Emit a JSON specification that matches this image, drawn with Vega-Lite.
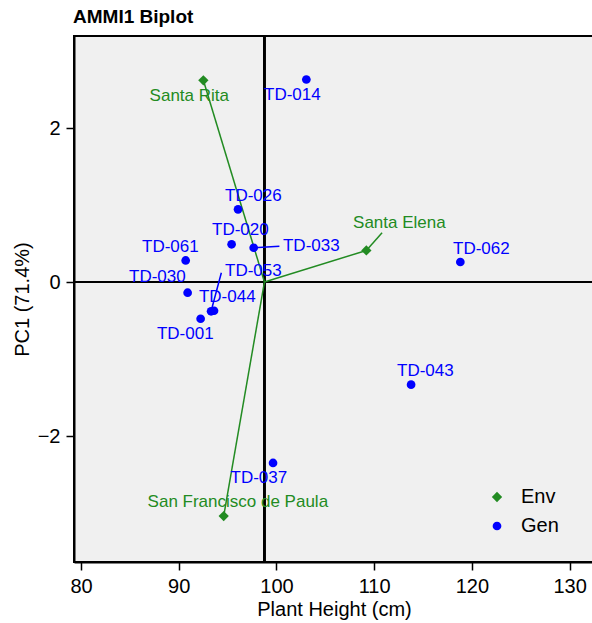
{
  "$schema": "https://vega.github.io/schema/vega-lite/v6.json",
  "autosize": {"type": "none"},
  "padding": {"left": 74, "top": 36, "right": 0, "bottom": 61},
  "width": 520,
  "height": 526,
  "title": {
    "text": "AMMI1 Biplot",
    "anchor": "start",
    "frame": "group",
    "font": "Liberation Sans",
    "fontSize": 19,
    "fontWeight": "bold",
    "color": "black",
    "offset": 8,
    "dx": -1
  },
  "config": {
    "font": "Liberation Sans",
    "view": {"fill": "#f0f0f0", "stroke": "black", "strokeWidth": 2},
    "axis": {
      "grid": false,
      "domainColor": "black",
      "domainWidth": 2,
      "tickColor": "black",
      "tickWidth": 1.5,
      "tickSize": 8,
      "labelFont": "Liberation Sans",
      "labelFontSize": 20,
      "labelColor": "black",
      "labelPadding": 6,
      "titleFont": "Liberation Sans",
      "titleFontSize": 20,
      "titleFontWeight": "normal",
      "titleColor": "black"
    },
    "legend": {
      "labelFont": "Liberation Sans",
      "labelFontSize": 20,
      "labelColor": "black"
    }
  },
  "data": {
    "values": [
      {"name": "Santa Rita", "type": "Env", "x": 92.52, "y": 2.62, "lx": 91.08, "ly": 2.42},
      {"name": "Santa Elena", "type": "Env", "x": 109.2, "y": 0.41, "lx": 112.58, "ly": 0.766, "sx": 110.81, "sy": 0.64},
      {"name": "San Francisco de Paula", "type": "Env", "x": 94.6, "y": -3.04, "lx": 96.05, "ly": -2.857},
      {"name": "TD-014", "type": "Gen", "x": 103.06, "y": 2.63, "lx": 101.63, "ly": 2.43},
      {"name": "TD-026", "type": "Gen", "x": 96.07, "y": 0.944, "lx": 97.64, "ly": 1.117},
      {"name": "TD-020", "type": "Gen", "x": 95.41, "y": 0.49, "lx": 96.31, "ly": 0.675},
      {"name": "TD-033", "type": "Gen", "x": 97.67, "y": 0.445, "lx": 103.57, "ly": 0.468, "sx": 100.3, "sy": 0.464},
      {"name": "TD-061", "type": "Gen", "x": 90.71, "y": 0.28, "lx": 89.14, "ly": 0.455},
      {"name": "TD-030", "type": "Gen", "x": 90.91, "y": -0.139, "lx": 87.81, "ly": 0.065},
      {"name": "TD-053", "type": "Gen", "x": 93.31, "y": -0.38, "lx": 97.64, "ly": 0.143, "sx": 94.36, "sy": 0.121},
      {"name": "TD-044", "type": "Gen", "x": 93.61, "y": -0.373, "lx": 94.97, "ly": -0.195},
      {"name": "TD-001", "type": "Gen", "x": 92.24, "y": -0.477, "lx": 90.67, "ly": -0.675},
      {"name": "TD-062", "type": "Gen", "x": 118.82, "y": 0.26, "lx": 120.97, "ly": 0.43},
      {"name": "TD-043", "type": "Gen", "x": 113.78, "y": -1.333, "lx": 115.24, "ly": -1.156},
      {"name": "TD-037", "type": "Gen", "x": 99.65, "y": -2.35, "lx": 98.2, "ly": -2.545}
    ]
  },
  "layer": [
    {
      "mark": {"type": "rule", "color": "black", "strokeWidth": 1.5},
      "encoding": {"x": {"datum": 98.77, "type": "quantitative"}}
    },
    {
      "mark": {"type": "rule", "color": "black", "strokeWidth": 1.5},
      "encoding": {"y": {"datum": 0, "type": "quantitative"}}
    },
    {
      "transform": [{"filter": "datum.type === 'Env'"}],
      "mark": {"type": "rule", "color": "#228B22", "strokeWidth": 1.5},
      "encoding": {
        "x": {"field": "x", "type": "quantitative"},
        "y": {"field": "y", "type": "quantitative"},
        "x2": {"datum": 98.77},
        "y2": {"datum": 0}
      }
    },
    {
      "transform": [{"filter": "isValid(datum.sx)"}],
      "mark": {"type": "rule", "strokeWidth": 1.5},
      "encoding": {
        "x": {"field": "x", "type": "quantitative"},
        "y": {"field": "y", "type": "quantitative"},
        "x2": {"field": "sx"},
        "y2": {"field": "sy"},
        "color": {"condition": {"test": "datum.type === 'Env'", "value": "#228B22"}, "value": "#0000FF"}
      }
    },
    {
      "mark": {"type": "point", "filled": true, "opacity": 1},
      "encoding": {
        "x": {
          "field": "x",
          "type": "quantitative",
          "title": "Plant Height (cm)",
          "scale": {"domain": [79.28, 132.5], "nice": false, "zero": false},
          "axis": {"values": [80, 90, 100, 110, 120, 130], "format": "d", "titlePadding": 3}
        },
        "y": {
          "field": "y",
          "type": "quantitative",
          "title": "PC1 (71.4%)",
          "scale": {"domain": [-3.636, 3.195], "nice": false, "zero": false},
          "axis": {"values": [-2, 0, 2], "format": "d", "titlePadding": 5}
        },
        "color": {
          "field": "type",
          "type": "nominal",
          "scale": {"domain": ["Env", "Gen"], "range": ["#228B22", "#0000FF"]},
          "legend": {
            "title": null,
            "orient": "none",
            "legendX": 413,
            "legendY": 451,
            "symbolSize": 40,
            "labelOffset": 14,
            "rowPadding": 9,
            "padding": 0,
            "encode": {"symbols": {"update": {"size": {"value": 40}}}}
          }
        },
        "shape": {
          "field": "type",
          "type": "nominal",
          "scale": {"domain": ["Env", "Gen"], "range": ["diamond", "circle"]}
        },
        "size": {
          "field": "type",
          "type": "nominal",
          "scale": {"domain": ["Env", "Gen"], "range": [106, 76]},
          "legend": null
        }
      }
    },
    {
      "mark": {"type": "text", "fontSize": 17, "align": "center", "baseline": "middle", "font": "Liberation Sans"},
      "encoding": {
        "x": {"field": "lx", "type": "quantitative"},
        "y": {"field": "ly", "type": "quantitative"},
        "text": {"field": "name"},
        "color": {"condition": {"test": "datum.type === 'Env'", "value": "#228B22"}, "value": "#0000FF"}
      }
    }
  ]
}
